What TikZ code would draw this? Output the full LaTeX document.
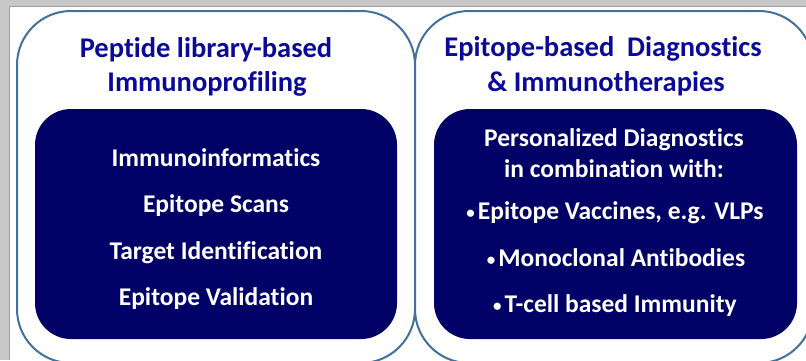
\documentclass[tikz,border=0pt]{standalone}
\usepackage{fontspec}
\setmainfont{Carlito}[Ligatures=NoCommon]
\definecolor{frame}{HTML}{C8C8C8}
\definecolor{frameedge}{HTML}{A0A0A0}
\definecolor{outline}{HTML}{41719C}
\definecolor{navy}{HTML}{000066}
\definecolor{titleblue}{HTML}{0A0A96}
\newcommand{\smallbul}{{\fontsize{17}{17}\selectfont\raisebox{1pt}{•}}\hspace{3pt}}
\tikzset{
  outerbox/.style={draw=outline, line width=2pt, rounded corners=54pt, fill=white},
  innerbox/.style={fill=navy, rounded corners=36pt},
  titletext/.style={anchor=base, inner sep=0pt, text=titleblue, font=\bfseries\fontsize{28.5}{34}\selectfont},
  itemtext/.style={anchor=base, inner sep=0pt, text=white, font=\bfseries\fontsize{25.5}{30}\selectfont}
}
\begin{document}
\begin{tikzpicture}[x=1pt,y=-1pt]
\useasboundingbox (0,0) rectangle (806,360);
\fill[frame] (0,0) rectangle (806,360);
\fill[white] (9,6) rectangle (806,360);
\draw[frameedge, line width=1pt] (9,360) -- (9,6) -- (806,6);
\begin{scope}
\clip (9,6) rectangle (806,360);
\draw[outerbox] (17,11) rectangle (415,363);
\draw[outerbox] (415,11) rectangle (813,363);
\end{scope}
\fill[innerbox] (35,109) rectangle (397,339);
\fill[innerbox] (434,109) rectangle (797,339);
% left titles
\node[titletext] (lt1) at (206,57) {Peptide library-based};
\node[titletext] (lt2) at (207,91) {Immunoprofiling};
% left items
\node[itemtext] (li1) at (216,166) {Immunoinformatics};
\node[itemtext] (li2) at (216,212) {Epitope Scans};
\node[itemtext] (li3) at (216,259) {Target Identification};
\node[itemtext] (li4) at (216,305) {Epitope Validation};
% right titles
\node[titletext] (rt1) at (603,56) {Epitope-based\ \ Diagnostics};
\node[titletext] (rt2) at (606,91) {\& Immunotherapies};
% right items
\node[itemtext] (ri1) at (614,146) {Personalized Diagnostics};
\node[itemtext] (ri2) at (614,177) {in combination with:};
\node[itemtext] (ri3) at (615,219) {\smallbul Epitope Vaccines, e.g. VLPs};
\node[itemtext] (ri4) at (616,266) {\smallbul Monoclonal Antibodies};
\node[itemtext] (ri5) at (615,312) {\smallbul T-cell based Immunity};
\end{tikzpicture}
\end{document}
